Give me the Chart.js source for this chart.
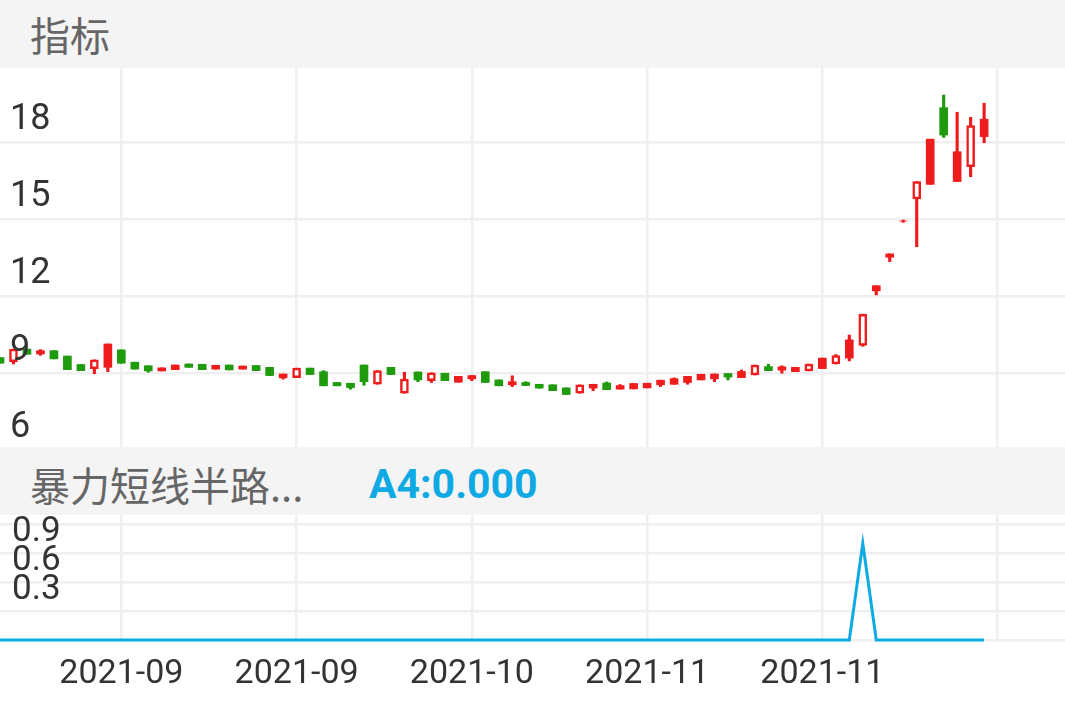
<!DOCTYPE html>
<html>
<head>
<meta charset="utf-8">
<script src="https://cdn.jsdelivr.net/npm/chart.js@4.4.1/dist/chart.umd.min.js"></script>
<style>
  body { margin: 0; background: #fff; width: 1065px; height: 708px; overflow: hidden; position: relative; }
  .bar { position: absolute; left: 0; width: 1065px; height: 68px; background: #f4f4f4; z-index: 2; }
  .bar span { position: absolute; top: 0; line-height: 68px; white-space: nowrap; }
  .name { left: 30px; font-family: "Noto Sans CJK SC", sans-serif; font-size: 40px; color: #666; }
  .val { left: 369px; font-family: Roboto, sans-serif; font-weight: bold; font-size: 41px; color: #0fa9e3; }
  canvas { position: absolute; left: 0; }
</style>
</head>
<body>
<div class="bar" style="top:0"><span class="name">指标</span></div>
<canvas id="kline" width="1065" height="383" style="top:68px"></canvas>
<div class="bar" style="top:447px"><span class="name" style="top:3px">暴力短线半路...</span><span class="val" style="top:3px">A4:0.000</span></div>
<canvas id="sub" width="1065" height="193" style="top:515px"></canvas>
<script>
// daily candles, oldest first
const openPx = [9.61, 9.45, 9.94, 9.75, 9.88, 9.67, 9.34, 9.18, 9.23, 9.91,
  9.43, 9.29, 9.09, 9.14, 9.36, 9.35, 9.16, 9.32, 9.16, 9.30,
  9.23, 8.82, 8.83, 9.20, 9.06, 8.64, 8.61, 9.32, 8.57, 9.23,
  8.22, 9.05, 8.71, 9.00, 8.65, 8.78, 9.06, 8.74, 8.55, 8.64,
  8.57, 8.55, 8.43, 8.22, 8.42, 8.62, 8.38, 8.39, 8.43, 8.55,
  8.57, 8.64, 8.74, 8.78, 8.99, 8.83, 8.93, 9.26, 9.12, 9.06,
  9.09, 9.18, 9.36, 9.59, 10.08, 12.21, 13.52, 14.93, 15.79, 16.36,
  19.35, 16.47, 17.05, 18.22];
const highPx = [9.61, 9.94, 9.94, 9.92, 9.88, 9.67, 9.34, 9.52, 10.14, 9.91,
  9.43, 9.29, 9.21, 9.32, 9.36, 9.35, 9.31, 9.32, 9.28, 9.30,
  9.23, 8.97, 9.20, 9.20, 9.10, 8.64, 8.61, 9.32, 9.10, 9.23,
  9.04, 9.05, 9.02, 9.00, 8.88, 8.91, 9.06, 8.74, 8.90, 8.67,
  8.57, 8.55, 8.43, 8.55, 8.57, 8.66, 8.56, 8.60, 8.61, 8.73,
  8.82, 8.88, 8.96, 8.97, 8.99, 9.13, 9.32, 9.35, 9.29, 9.23,
  9.36, 9.59, 9.73, 10.49, 11.30, 12.41, 13.65, 14.97, 16.47, 18.12,
  19.84, 19.17, 18.97, 19.52];
const lowPx = [9.39, 9.36, 9.74, 9.70, 9.56, 9.14, 9.10, 8.98, 9.06, 9.39,
  9.16, 9.04, 9.09, 9.14, 9.23, 9.14, 9.16, 9.13, 9.16, 9.10,
  8.91, 8.77, 8.83, 8.95, 8.51, 8.51, 8.38, 8.53, 8.57, 8.95,
  8.22, 8.67, 8.64, 8.71, 8.65, 8.71, 8.64, 8.51, 8.48, 8.52,
  8.42, 8.32, 8.17, 8.22, 8.32, 8.36, 8.38, 8.39, 8.43, 8.48,
  8.57, 8.57, 8.74, 8.67, 8.74, 8.83, 8.93, 9.10, 9.00, 9.06,
  9.09, 9.18, 9.36, 9.48, 10.05, 12.05, 13.35, 14.88, 13.93, 16.36,
  18.19, 16.47, 16.66, 17.98];
const closePx = [9.39, 9.94, 9.74, 9.88, 9.56, 9.14, 9.10, 9.52, 10.14, 9.39,
  9.16, 9.09, 9.21, 9.32, 9.23, 9.14, 9.31, 9.13, 9.28, 9.10,
  8.91, 8.97, 9.20, 8.95, 8.51, 8.51, 8.44, 8.67, 9.10, 8.95,
  8.77, 8.74, 9.02, 8.71, 8.88, 8.91, 8.64, 8.51, 8.67, 8.52,
  8.42, 8.32, 8.17, 8.55, 8.57, 8.36, 8.52, 8.60, 8.61, 8.73,
  8.79, 8.88, 8.96, 8.97, 8.85, 9.07, 9.32, 9.10, 9.25, 9.23,
  9.36, 9.59, 9.69, 10.30, 11.30, 12.41, 13.65, 14.93, 16.47, 18.12,
  18.28, 17.63, 18.65, 18.90];
// days the app draws as hollow candles
const hollowDays = [1, 7, 22, 28, 30, 32, 43, 56, 60, 62, 64, 68, 72];

// 暴力短线半路 A4 signal
const a4 = [0, 0, 0, 0, 0, 0, 0, 0, 0, 0,
  0, 0, 0, 0, 0, 0, 0, 0, 0, 0,
  0, 0, 0, 0, 0, 0, 0, 0, 0, 0,
  0, 0, 0, 0, 0, 0, 0, 0, 0, 0,
  0, 0, 0, 0, 0, 0, 0, 0, 0, 0,
  0, 0, 0, 0, 0, 0, 0, 0, 0, 0,
  0, 0, 0, 0, 1, 0, 0, 0, 0, 0,
  0, 0, 0, 0];

const dateTicks = [9, 22, 35, 48, 61, 74];
const dateLabels = ['2021-09', '2021-09', '2021-10', '2021-11', '2021-11', ''];
const priceTicks = [6, 9, 12, 15, 18];
const a4Ticks = [0, 0.3, 0.6, 0.9, 1.2];
const a4TickLabels = ['', '0.3', '0.6', '0.9', ''];

const red = '#ee1c1c';
const green = '#1f9b0d';
const gridColor = '#efeff1';

const colorOf = i => closePx[i] < openPx[i] ? green : red;

// kill the label overflow padding chart.js adds around the plot
function noPad(s) {
  s.paddingTop = 0; s.paddingBottom = 0; s.paddingLeft = 0; s.paddingRight = 0;
}

function xAxis(showLabels, h) {
  return {
    type: 'linear', min: 0, max: 79, offset: false,
    grid: { color: gridColor, lineWidth: 2.5, drawTicks: false, offset: false },
    border: { display: false },
    afterBuildTicks: s => { s.ticks = dateTicks.map(v => ({ value: v })); },
    afterFit: s => { s.height = h; noPad(s); },
    ticks: {
      display: showLabels, padding: 12, maxRotation: 0, autoSkip: false,
      color: '#333', font: { family: 'Roboto', size: 34 },
      callback: (v, i) => dateLabels[i]
    }
  };
}

function yAxis(min, max, ticks, labels, size, pad, off) {
  return {
    min: min, max: max,
    grid: { color: gridColor, lineWidth: 2.5, drawTicks: false },
    border: { display: false },
    afterBuildTicks: s => { s.ticks = ticks.map(v => ({ value: v })); },
    afterFit: s => { s.width = 0; noPad(s); },
    ticks: {
      mirror: true, padding: pad, labelOffset: off, z: 1, autoSkip: false,
      color: '#333', font: { family: 'Roboto', size: size },
      callback: (v, i) => labels[i]
    }
  };
}

new Chart(document.getElementById('kline'), {
  type: 'bar',
  data: {
    datasets: [{
      data: openPx.map((o, i) => ({ x: i, y: [o, closePx[i]] })),
      barThickness: 8,
      grouped: false,
      borderSkipped: false,
      borderWidth: c => hollowDays.includes(c.dataIndex) ? 2.5 : 0,
      borderColor: c => colorOf(c.dataIndex),
      backgroundColor: c => hollowDays.includes(c.dataIndex) ? '#fff' : colorOf(c.dataIndex)
    }, {
      data: lowPx.map((l, i) => ({ x: i, y: [l, highPx[i]] })),
      barThickness: 2.5,
      grouped: false,
      borderWidth: 0,
      backgroundColor: c => colorOf(c.dataIndex)
    }]
  },
  options: {
    responsive: false,
    animation: false,
    layout: { padding: 0, autoPadding: false },
    plugins: { legend: { display: false }, tooltip: { enabled: false } },
    scales: {
      x: xAxis(false, 0),
      y: yAxis(5.97, 20.894, priceTicks, priceTicks.map(String), 36, 10, -22)
    }
  }
});

new Chart(document.getElementById('sub'), {
  type: 'line',
  data: {
    datasets: [{
      data: a4.map((v, i) => ({ x: i, y: v })),
      borderColor: '#0fa9e3',
      borderWidth: 3,
      pointRadius: 0,
      tension: 0,
      fill: false
    }]
  },
  options: {
    responsive: false,
    animation: false,
    layout: { padding: 0, autoPadding: false },
    plugins: { legend: { display: false }, tooltip: { enabled: false } },
    scales: {
      x: xAxis(true, 66),
      y: yAxis(-0.0207, 1.2926, a4Ticks, a4TickLabels, 35, 12, -21)
    }
  }
});
</script>
</body>
</html>
